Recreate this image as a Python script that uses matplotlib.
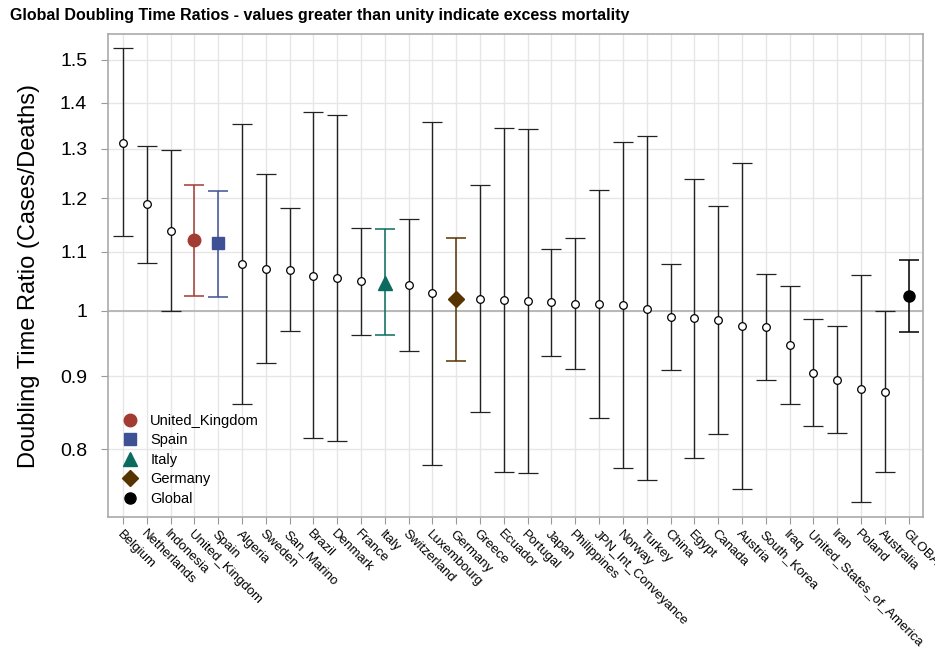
import matplotlib.pyplot as plt
import numpy as np

plt.rcParams['font.family'] = ['Liberation Sans', 'DejaVu Sans']

# doubling time ratio per country with lower/upper bounds
countries = ['Belgium', 'Netherlands', 'Indonesia', 'United_Kingdom', 'Spain', 'Algeria',
             'Sweden', 'San_Marino', 'Brazil', 'Denmark', 'France', 'Italy', 'Switzerland',
             'Luxembourg', 'Germany', 'Greece', 'Ecuador', 'Portugal', 'Japan', 'Philippines',
             'JPN_Int_Conveyance', 'Norway', 'Turkey', 'China', 'Egypt', 'Canada', 'Austria',
             'South_Korea', 'Iraq', 'United_States_of_America', 'Iran', 'Poland', 'Australia',
             'GLOBAL']
ratio = [1.312, 1.188, 1.138, 1.121, 1.116, 1.079, 1.071, 1.069, 1.059, 1.054, 1.049, 1.047,
         1.043, 1.030, 1.020, 1.019, 1.018, 1.016, 1.014, 1.011, 1.011, 1.010, 1.004, 0.990,
         0.989, 0.985, 0.976, 0.974, 0.947, 0.905, 0.894, 0.882, 0.878, 1.025]
lower = [1.128, 1.080, 1.000, 1.025, 1.023, 0.861, 0.920, 0.968, 0.814, 0.810, 0.962, 0.962,
         0.938, 0.780, 0.923, 0.849, 0.771, 0.770, 0.930, 0.910, 0.841, 0.776, 0.761, 0.909,
         0.789, 0.820, 0.750, 0.894, 0.861, 0.830, 0.821, 0.734, 0.771, 0.967]
upper = [1.528, 1.306, 1.296, 1.226, 1.213, 1.353, 1.247, 1.181, 1.379, 1.372, 1.143, 1.142,
         1.160, 1.357, 1.126, 1.225, 1.344, 1.341, 1.105, 1.125, 1.215, 1.313, 1.326, 1.079,
         1.238, 1.184, 1.270, 1.061, 1.041, 0.987, 0.976, 1.060, 1.000, 1.085]

# highlighted series: name -> (legend label, marker, colour, size)
highlight = {
    'United_Kingdom': ('United_Kingdom', 'o', '#a23b32', 9),
    'Spain': ('Spain', 's', '#3f5195', 8.5),
    'Italy': ('Italy', '^', '#0b6b5e', 10),
    'Germany': ('Germany', 'D', '#573300', 8),
    'GLOBAL': ('Global', 'o', '#000000', 8),
}

ratio = np.array(ratio)
lower = np.array(lower)
upper = np.array(upper)
x = np.arange(len(countries))

fig = plt.figure(figsize=[9.35, 6.55], dpi=100)
ax = fig.add_axes([0.1155, 0.2107, 0.8715, 0.7373])
ax.set_yscale('log')

for i, c in enumerate(countries):
    err = [[ratio[i] - lower[i]], [upper[i] - ratio[i]]]
    if c in highlight:
        lab, mk, col, ms = highlight[c]
        ax.errorbar(x[i], ratio[i], yerr=err, fmt=mk, color=col, ecolor=col, ms=ms,
                    elinewidth=1.1, capsize=7, capthick=1.1, label=lab, zorder=4)
    else:
        ax.errorbar(x[i], ratio[i], yerr=err, fmt='o', mfc='white', mec='black', mew=0.9,
                    ms=5.5, ecolor='#222222', elinewidth=1.0, capsize=7, capthick=1.0,
                    zorder=3)

ax.axhline(1.0, color='#b4b4b4', lw=1.3, zorder=1)

ax.set_xlim(-0.63, 33.6)
ax.set_ylim(0.717, 1.564)
yt = [0.8, 0.9, 1.0, 1.1, 1.2, 1.3, 1.4, 1.5]
ax.set_yticks(yt)
ax.set_yticklabels(['0.8', '0.9', '1', '1.1', '1.2', '1.3', '1.4', '1.5'], fontsize=14)
ax.yaxis.set_minor_locator(plt.NullLocator())
ax.set_xticks(x)
ax.set_xticklabels(countries, rotation=-45, ha='left', va='top', rotation_mode='anchor',
                   fontsize=9.5)
ax.tick_params(axis='x', length=5, color='#999999', pad=3)
ax.tick_params(axis='y', length=5, color='#999999', pad=10)
ax.grid(True, color='#e6e6e6', lw=1.0, zorder=0)
ax.set_axisbelow(True)
for s in ax.spines.values():
    s.set_color('#aaaaaa')
    s.set_linewidth(1.2)

ax.set_ylabel('Doubling Time Ratio (Cases/Deaths)', fontsize=17, labelpad=14)
fig.text(0.011, 0.977, 'Global Doubling Time Ratios - values greater than unity indicate excess mortality',
         fontsize=11.5, fontweight='bold', ha='left', va='center')

handles, labels = ax.get_legend_handles_labels()
order = ['United_Kingdom', 'Spain', 'Italy', 'Germany', 'Global']
hmap = dict(zip(labels, handles))
leg = ax.legend([hmap[k][0] for k in order], order, loc='lower left',
                bbox_to_anchor=(0.0, -0.004), frameon=False, fontsize=10.5,
                handlelength=1.2, handletextpad=0.8, labelspacing=0.38)

plt.savefig('out.png', dpi=100, facecolor='white')
